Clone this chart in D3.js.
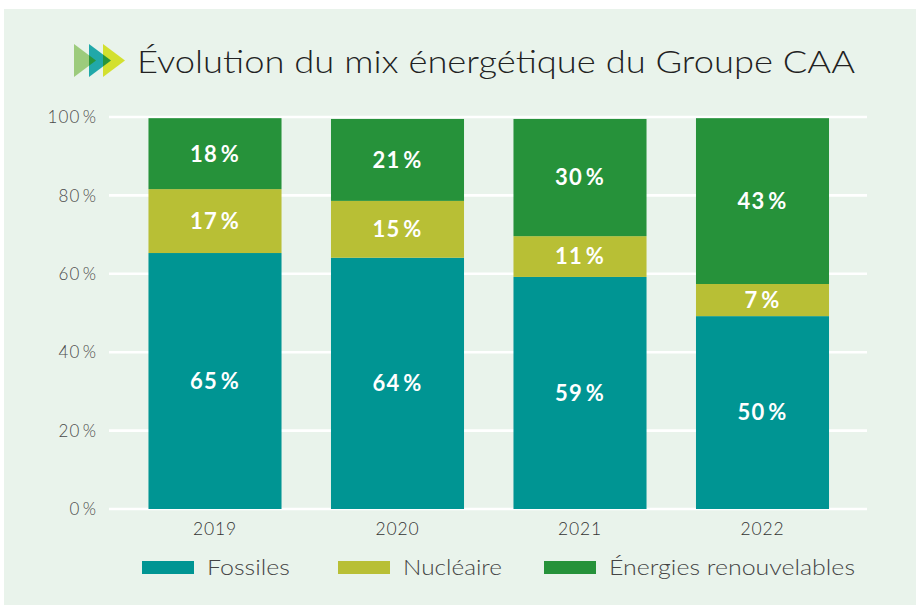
<!DOCTYPE html>
<html><head><meta charset="utf-8">
<script src="https://cdn.jsdelivr.net/npm/d3@7"></script>
<style>
html,body{margin:0;padding:0;background:#fff;}
svg{display:block;font-family:Lato,"Noto Sans",sans-serif;}
</style></head>
<body>
<svg id="chart" width="916" height="605"></svg>
<script>
// ---- data ----
const years = ["2019", "2020", "2021", "2022"];
const seriesNames = ["Fossiles", "Nucléaire", "Énergies renouvelables"];
const fossiles = [65.3, 64.1, 59.2, 49.2];
const nucleaire = [16.3, 14.5, 10.4, 8.2];
const renouvelables = [18.1, 20.9, 29.9, 42.3];
const fossilesLabels = ["65", "64", "59", "50"];
const nucleaireLabels = ["17", "15", "11", "7"];
const renouvelablesLabels = ["18", "21", "30", "43"];
const yTicks = [0, 20, 40, 60, 80, 100];
const colors = ["#009593", "#b8bf35", "#26923a"];
const titleText = "Évolution du mix énergétique du Groupe CAA";

const svg = d3.select("#chart");
// panel
svg.append("rect").attr("x", 4).attr("y", 9).attr("width", 912).attr("height", 596).attr("fill", "#e9f3eb");

// icon triangles
const triStarts = [74, 89, 103];
const triColors = ["#9ccb7c", "#21a8a9", "#d3e02f"];
const tw = 22, ty0 = 44, ty1 = 77, tmid = (ty0 + ty1) / 2;
triStarts.forEach((x0, i) => {
  svg.append("polygon").attr("points", `${x0},${ty0} ${x0 + tw},${tmid} ${x0},${ty1}`).attr("fill", triColors[i]);
});
for (let i = 0; i < triStarts.length - 1; i++) {
  const a = triStarts[i], b = triStarts[i + 1];
  const dy = (b - a) / tw * (tmid - ty0);
  svg.append("polygon")
    .attr("points", `${b},${ty0 + dy} ${a + tw},${tmid} ${b},${ty1 - dy}`)
    .attr("fill", "#27963b");
}

// title
svg.append("text").attr("x", 137).attr("y", 73)
  .attr("font-size", 31).attr("font-weight", 300).attr("fill", "#222")
  .attr("textLength", 718).attr("lengthAdjust", "spacingAndGlyphs")
  .text(titleText);

// scales
const y = d3.scaleLinear().domain([0, 100]).range([509, 117]);
const x = d3.scaleBand().domain(years).range([123.75, 853.75]).paddingInner(0.271).paddingOuter(0.1355);
const gridX0 = 109, gridX1 = 867;

// grid
svg.append("g").selectAll("line").data(yTicks).join("line")
  .attr("x1", gridX0).attr("x2", gridX1)
  .attr("y1", d => y(d)).attr("y2", d => y(d))
  .attr("stroke", "#fff").attr("stroke-width", 2.6);

// y labels
svg.append("g").selectAll("text").data(yTicks).join("text")
  .attr("x", 97).attr("y", d => y(d)).attr("dy", "0.36em")
  .attr("text-anchor", "end").attr("font-size", 17).attr("font-weight", 300)
  .attr("letter-spacing", 1.1).attr("fill", "#4a4a4a")
  .text(d => d + "\u200A%");

// stacks
const rows = years.map((yr, i) => ({ year: yr, Fossiles: fossiles[i], "Nucléaire": nucleaire[i], "Énergies renouvelables": renouvelables[i] }));
const labelSets = [fossilesLabels, nucleaireLabels, renouvelablesLabels];
const stack = d3.stack().keys(seriesNames)(rows);
stack.forEach((layer, si) => {
  const g = svg.append("g");
  g.selectAll("rect").data(layer).join("rect")
    .attr("x", d => x(d.data.year)).attr("width", x.bandwidth())
    .attr("y", d => y(d[1])).attr("height", d => y(d[0]) - y(d[1]))
    .attr("fill", colors[si]);
  g.selectAll("text").data(layer).join("text")
    .attr("x", d => x(d.data.year) + x.bandwidth() / 2)
    .attr("y", d => (y(d[0]) + y(d[1])) / 2).attr("dy", "0.36em")
    .attr("text-anchor", "middle").attr("font-size", 22).attr("font-weight", 700)
    .attr("letter-spacing", 1.3).attr("fill", "#fff")
    .text((d, i) => labelSets[si][i] + "\u200A%");
});

// x labels
svg.append("g").selectAll("text").data(years).join("text")
  .attr("x", d => x(d) + x.bandwidth() / 2).attr("y", 529).attr("dy", "0.36em")
  .attr("text-anchor", "middle").attr("font-size", 17.5).attr("font-weight", 300)
  .attr("letter-spacing", 0.8).attr("fill", "#333")
  .text(d => d);

// legend
const legX = [142, 338, 544];
const legW = [83, 99, 246];
const leg = svg.append("g");
seriesNames.forEach((n, i) => {
  leg.append("rect").attr("x", legX[i]).attr("y", 561).attr("width", 52).attr("height", 13).attr("fill", colors[i]);
  leg.append("text").attr("x", legX[i] + 65).attr("y", 567).attr("dy", "0.36em")
    .attr("font-size", 21.5).attr("font-weight", 300).attr("fill", "#444")
    .attr("textLength", legW[i]).attr("lengthAdjust", "spacingAndGlyphs").text(n);
});
</script>
</body></html>
